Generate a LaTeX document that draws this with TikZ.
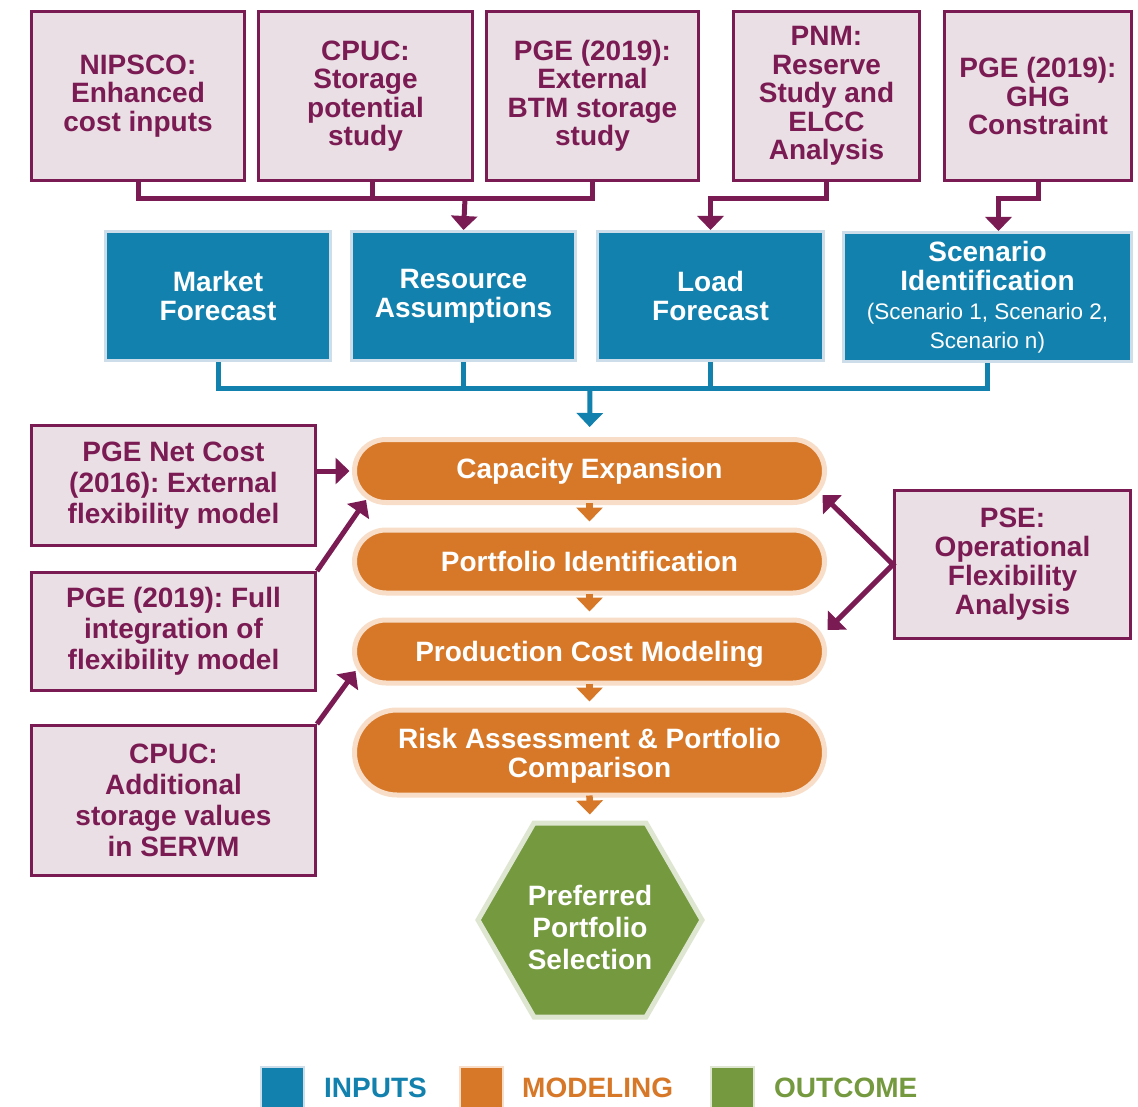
\documentclass[tikz,border=0pt]{standalone}
\usepackage{fontspec}
\setmainfont{Liberation Sans}
\usetikzlibrary{arrows.meta,shapes.misc,shapes.geometric,calc}

\definecolor{plum}{RGB}{123,27,84}
\definecolor{blush}{RGB}{234,223,228}
\definecolor{inblue}{RGB}{18,129,173}
\definecolor{inhalo}{RGB}{205,222,234}
\definecolor{modorange}{RGB}{215,120,41}
\definecolor{modhalo}{RGB}{248,222,200}
\definecolor{outgreen}{RGB}{116,153,62}
\definecolor{outhalo}{RGB}{222,230,210}

% lighter, smaller type for the scenario list
\newcommand\subfont{\fontsize{22.5}{29}\selectfont\mdseries}
% invisible prop that lowers the hexagon's text block
\newcommand\hexprop{\rule{0pt}{36pt}}

\tikzset{
  txt/.style={font=\fontsize{28}{29}\selectfont\bfseries, align=center, inner sep=0pt},
  srcbox/.style={txt, rectangle, draw=plum, line width=3pt, fill=blush, text=plum},
  topsrc/.style={srcbox, font=\fontsize{28}{28.5}\selectfont\bfseries, minimum height=169pt},
  sidesrc/.style={srcbox, font=\fontsize{28}{31}\selectfont\bfseries, minimum width=284pt},
  inbox/.style={txt, rectangle, draw=inhalo, line width=3pt, fill=inblue, text=white, minimum height=129pt},
  pill/.style={txt, rounded rectangle, draw=modhalo, line width=5pt, fill=modorange, text=white, minimum width=470pt},
  hexa/.style={txt, font=\fontsize{28}{32}\selectfont\bfseries, regular polygon, regular polygon sides=6, minimum size=224pt,
    draw=outhalo, line width=5pt, fill=outgreen, text=white},
  legsq/.style={rectangle, minimum size=43pt, inner sep=0pt, line width=2pt},
  legtxt/.style={anchor=base west, inner sep=0pt, font=\fontsize{28}{29}\selectfont\bfseries},
  tip/.style={-{Triangle[width=26pt,length=14pt]}},
  mline/.style={plum, line width=5pt, line join=miter},
  marrow/.style={mline, tip},
  bline/.style={inblue, line width=5pt, line join=miter},
  barrow/.style={bline, tip},
  oarrow/.style={modorange, line width=6.5pt, tip, shorten <=-2pt, shorten >=6pt},
}

\begin{document}
\frenchspacing
\begin{tikzpicture}[x=1pt,y=-1pt]
\useasboundingbox (0,0) rectangle (1138,1107);
\clip (0,0) rectangle (1138,1107);
\fill[white] (0,0) rectangle (1138,1107);

% source studies along the top
\node[topsrc, minimum width=213pt] (nipsco) at (138,96) {NIPSCO:\\Enhanced\\cost inputs};
\node[topsrc, minimum width=214pt] (cpucA) at (365.5,96) {CPUC:\\Storage\\potential\\study};
\node[topsrc, minimum width=212pt] (pgebtm) at (592.5,96) {PGE (2019):\\External\\BTM storage\\study};
\node[topsrc, minimum width=186pt] (pnm) at (826.5,96) {PNM:\\Reserve\\Study and\\ELCC\\Analysis};
\node[topsrc, minimum width=187pt] (ghg) at (1038,96) {PGE (2019):\\GHG\\Constraint};

% inputs
\node[inbox, minimum width=225pt] (market) at (218,296) {Market\\Forecast};
\node[inbox, minimum width=224pt] (resource) at (463.5,296) {Resource\\Assumptions};
\node[inbox, minimum width=226pt] (load) at (710.5,296) {Load\\Forecast};
\node[inbox, minimum width=288pt] (scen) at (987.5,297) {Scenario\\Identification\\
  {\subfont (Scenario 1, Scenario 2,}\\{\subfont Scenario n)}};

% modeling chain
\node[pill, minimum height=63pt] (cap) at (589.5,471) {Capacity Expansion};
\node[pill, minimum height=63pt] (port) at (589.5,561.5) {Portfolio Identification};
\node[pill, minimum height=63pt, text depth=0pt] (prod) at (589.5,651.5) {Production Cost Modeling};
\node[pill, minimum height=85pt, text depth=0pt] (risk) at (589.5,752.5) {Risk Assessment \& Portfolio\\Comparison};

% outcome
\node[hexa] (pref) at (590,920) {\hexprop Preferred\\Portfolio\\Selection};

% side studies
\node[sidesrc, minimum height=120pt] (netcost) at (173.5,485.5) {PGE Net Cost\\(2016): External\\flexibility model};
\node[sidesrc, minimum height=118pt] (fullint) at (173.5,631.5) {PGE (2019): Full\\integration of\\flexibility model};
\node[sidesrc, minimum height=150pt] (cpucB) at (173.5,800.5) {CPUC:\\Additional\\storage values\\in SERVM};
\node[srcbox, minimum width=236pt, minimum height=148pt] (pse) at (1012.5,564.5) {PSE:\\Operational\\Flexibility\\Analysis};

% studies feeding the inputs
\coordinate (topbus) at (465,199);
\draw[mline] (nipsco.south) -- ++(0,17) -| (pgebtm.south);
\draw[mline] ([xshift=7pt]cpucA.south) -- ++(0,17);
\draw[marrow] (topbus) -- (resource.north);
\draw[marrow] (pnm.south) -- ++(0,17) -| (load.north);
\draw[marrow] (ghg.south) -- ++(0,17) -| ([xshift=11pt]scen.north);

% inputs feeding the model
\coordinate (inbus) at (590,388);
\draw[bline] (market.south) -- ++(0,26) -| (scen.south);
\draw[bline] (resource.south) -- ++(0,26);
\draw[bline] (load.south) -- ++(0,26);
\draw[barrow, shorten >=10pt] (inbus) -- (cap.north);

% modeling steps
\draw[oarrow] (cap.south) -- (port.north);
\draw[oarrow] (port.south) -- (prod.north);
\draw[oarrow] (prod.south) -- (risk.north);
\draw[oarrow] (risk.south) -- (pref.north);

% side studies into the model
\draw[marrow, shorten >=2.5pt] (netcost.east |- cap.west) -- (cap.west);
\draw[marrow] (fullint.north east) -- ($(cap.west)+(14,29)$);
\draw[marrow] (cpucB.north east) -- ($(prod.west)+(3.5,19.5)$);
\draw[mline, {Triangle[width=26pt,length=14pt]}-{Triangle[width=26pt,length=14pt]}]
  ($(cap.east)+(-4.5,24)$) -- (pse.west) -- ($(prod.east)+(0.5,-21.5)$);

% legend
\node[legsq, fill=inblue, draw=inhalo] (legin) at (282.5,1088) {};
\node[legtxt, text=inblue] (legintxt) at (324,1097) {INPUTS};
\node[legsq, fill=modorange, draw=modhalo] (legmod) at (481.5,1088) {};
\node[legtxt, text=modorange] (legmodtxt) at (522,1097) {MODELING};
\node[legsq, fill=outgreen, draw=outhalo] (legout) at (732.5,1088) {};
\node[legtxt, text=outgreen] (legouttxt) at (774,1097) {OUTCOME};
\end{tikzpicture}
\end{document}
